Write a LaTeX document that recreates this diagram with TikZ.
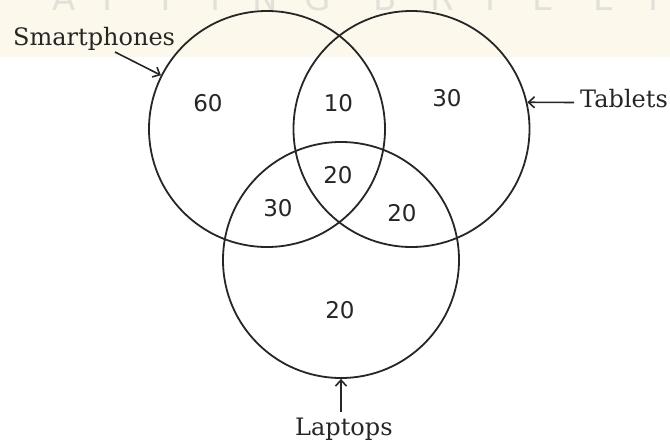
\documentclass[tikz,border=0pt]{standalone}
\usepackage{fontspec}
\setmainfont{DejaVu Serif}
\newfontfamily\numfont{DejaVu Sans}
\usetikzlibrary{arrows.meta}
\definecolor{ink}{HTML}{262626}
\definecolor{cream}{HTML}{FCF9EC}
\definecolor{wm}{HTML}{E2E0DA}
\begin{document}
\begin{tikzpicture}[x=1pt,y=-1pt,
  setc/.style={circle, draw=ink, line width=1.8pt, minimum size=236pt, inner sep=0pt},
  num/.style={font=\numfont\fontsize{23}{23}\selectfont, text=ink, inner sep=0pt},
  lab/.style={font=\fontsize{24}{24}\selectfont, text=ink, inner sep=0pt},
  wmark/.style={font=\numfont\fontsize{34}{34}\selectfont, text=wm, inner sep=0pt, anchor=base},
  pointer/.style={draw=ink, line width=1.6pt, -{Straight Barb[length=6pt,width=11pt,line width=1.6pt]}}]
\useasboundingbox (0,0) rectangle (670,442);
\fill[white] (0,0) rectangle (670,442);
\fill[cream] (0,0) rectangle (670,57);
% watermark (cut off at the top, as in the reference)
\begin{scope}
\clip (0,0) rectangle (670,57);
\foreach \ch/\px [count=\i] in {A/64,P/113,T/166,I/216,N/265,G/318,B/385,R/442,I/491,E/543,L/603,I/654}
  \node[wmark] (wm\i) at (\px,10) {\ch};
\end{scope}
% sets
\node[setc] (S) at (267,129) {};
\node[setc] (T) at (411.5,129) {};
\node[setc] (L) at (341,260) {};
% region counts
\node[num] (n60) at (208,103.5) {60};
\node[num] (n10) at (338.5,103) {10};
\node[num] (n30t) at (447,98) {30};
\node[num] (n20c) at (338,175) {20};
\node[num] (n30l) at (278,208) {30};
\node[num] (n20r) at (402,213.5) {20};
\node[num] (n20b) at (340,310) {20};
% labels
\node[lab, anchor=base west] (smart) at (13,45) {Smartphones};
\node[lab, anchor=base west] (tabl) at (580,107) {Tablets};
\node[lab, anchor=base west] (lapt) at (295,435) {Laptops};
% pointers
\coordinate (sa) at (115,52);
\coordinate (ta) at (574,102.5);
\coordinate (la) at (341,412);
\draw[pointer] (sa) -- (S);
\draw[pointer] (ta) -- (T.13);
\draw[pointer] (la) -- (L.south);
\end{tikzpicture}
\end{document}
